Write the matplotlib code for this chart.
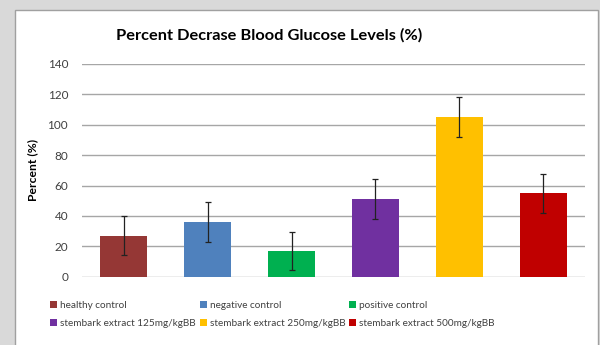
import numpy as np
import matplotlib.pyplot as plt
from matplotlib.patches import Rectangle, Patch

labels = ['healthy control', 'negative control', 'positive control',
          'stembark extract 125mg/kgBB', 'stembark extract 250mg/kgBB',
          'stembark extract 500mg/kgBB']
values = [27, 36, 17, 51, 105, 55]
errors = [12.8, 12.9, 12.7, 13, 13, 12.9]
colors = ['#953735', '#4f81bd', '#00b050', '#7030a0', '#ffc000', '#c00000']

plt.rcParams['font.family'] = ['Lato', 'DejaVu Sans']

fig = plt.figure(figsize=(6, 3.45), dpi=100)
fig.patch.set_facecolor('#d9d9d9')
# white chart frame
fig.patches.append(Rectangle((15 / 600, -0.05), 583 / 600, 1 - 10 / 345 + 0.05,
                             transform=fig.transFigure, facecolor='white',
                             edgecolor='#a0a0a0', linewidth=1, zorder=-5))

ax = fig.add_axes([82 / 600, 1 - 276.7 / 345, 503 / 600, 212.7 / 345])
ax.set_facecolor('none')
x = np.arange(len(values))
ax.bar(x, values, width=0.56, color=colors, zorder=2)
ax.errorbar(x, values, yerr=errors, fmt='none', ecolor='#222222',
            elinewidth=0.9, capsize=2.5, capthick=0.9, zorder=3)

ax.set_xlim(-0.5, 5.5)
ax.set_ylim(0, 140)
ax.set_yticks(np.arange(0, 141, 20))
ax.set_xticks([])
ax.grid(axis='y', color='#a6a6a6', linewidth=1, zorder=1)
for s in ax.spines.values():
    s.set_visible(False)
ax.tick_params(axis='y', length=0, pad=10, labelsize=8.5, labelcolor='#404040')
ax.set_ylabel('Percent (%)', fontsize=8.7, fontweight='bold', labelpad=7)

fig.text(269 / 600, 1 - 35 / 345, 'Percent Decrase Blood Glucose Levels (%)',
         ha='center', va='center', fontsize=11.8, fontweight='bold')

handles = [Patch(facecolor=c, edgecolor='none') for c in colors]
order = [0, 3, 1, 4, 2, 5]
fig.legend([handles[i] for i in order], [labels[i] for i in order],
           ncol=3, loc='upper left', bbox_to_anchor=(50 / 600, 1 - 301 / 345),
           frameon=False, fontsize=7.2, handlelength=0.7, handleheight=0.7,
           handletextpad=0.3, columnspacing=0.4, labelspacing=0.9,
           borderaxespad=0, borderpad=0, labelcolor='#404040')

plt.savefig('out.png', dpi=100)
